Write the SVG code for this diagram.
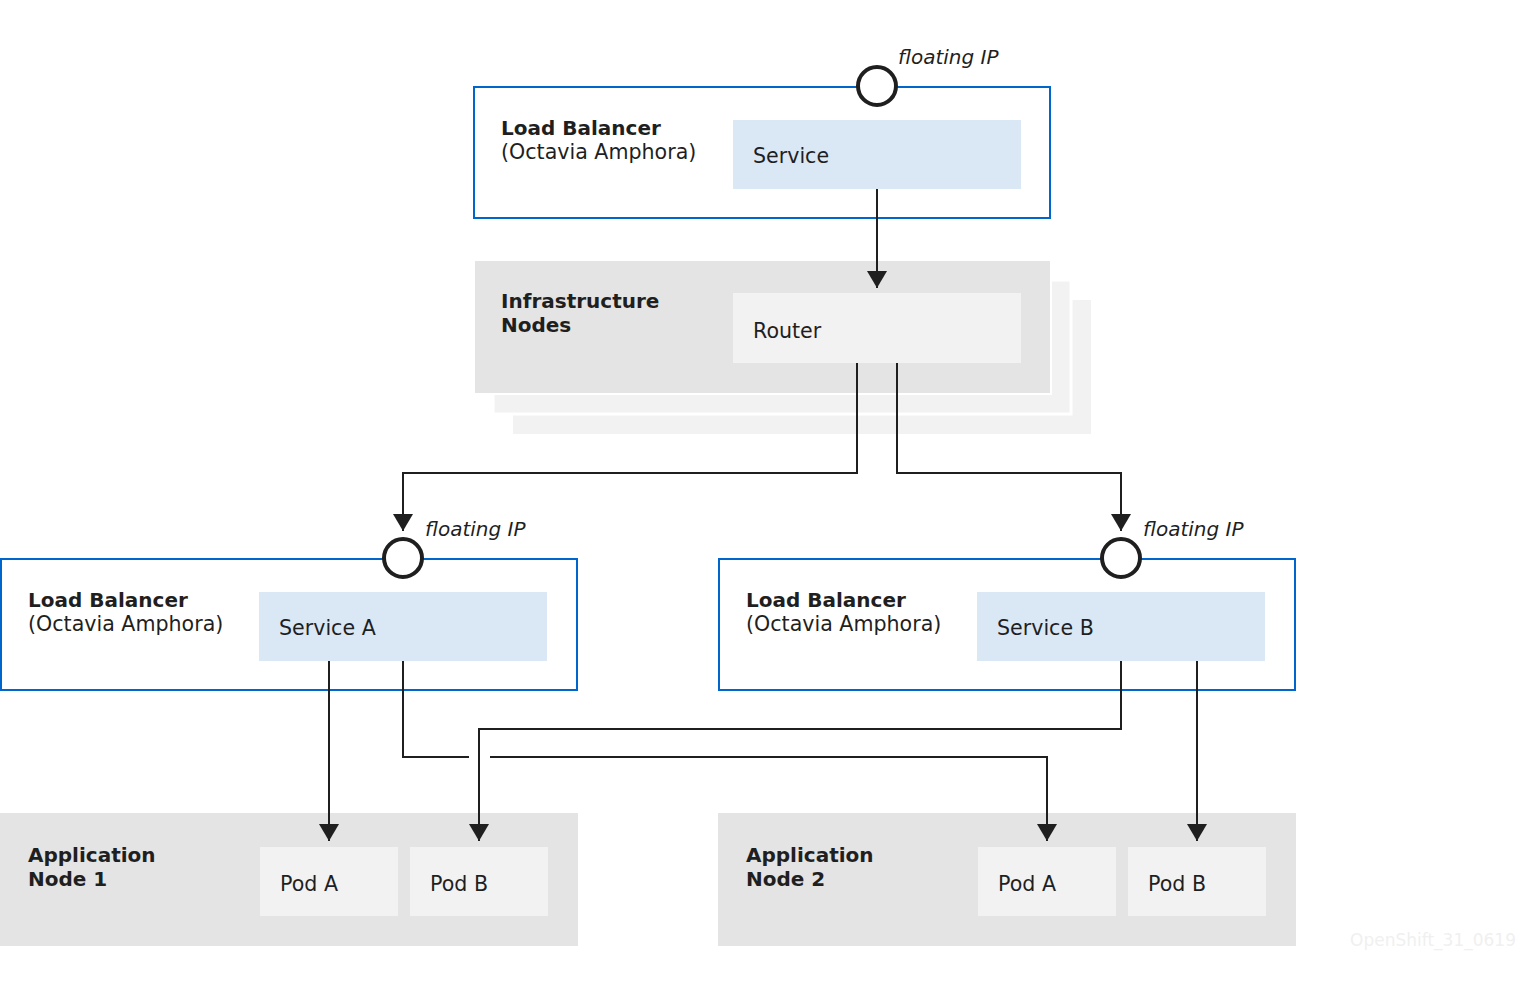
<svg xmlns="http://www.w3.org/2000/svg" width="1520" height="982" viewBox="0 0 1520 982">
<defs>
<style>
text{font-family:"DejaVu Sans","Noto Sans",sans-serif;fill:#1f1f1f;font-size:20.6px}
.b{font-weight:bold;font-size:20px}
.i{font-style:italic;font-size:20px}
.lb{fill:#ffffff;stroke:#0066cc;stroke-width:2}
.svc{fill:#dae8f6}
.grey{fill:#e4e4e4}
.light{fill:#f2f2f2}
.fip{fill:#ffffff;stroke:#1f1f1f;stroke-width:4}
.conn{fill:none;stroke:#1f1f1f;stroke-width:2}
.wm{fill:#f0f0f0;font-size:17px;text-anchor:end}
</style>
<marker id="arr" viewBox="0 0 17 20" refX="17" refY="10" markerWidth="17" markerHeight="20" markerUnits="userSpaceOnUse" orient="auto">
<path d="M0,0 L17,10 L0,20 Z" fill="#1f1f1f"/>
</marker>
</defs>
<rect width="1520" height="982" fill="#ffffff"/>

<g id="lb-top">
<rect class="lb" x="474" y="87" width="576" height="131"/>
<rect class="svc" x="733" y="120" width="288" height="69"/>
<text class="b" x="501" y="135">Load Balancer</text>
<text x="501" y="159">(Octavia Amphora)</text>
<text x="753" y="163">Service</text>
<circle class="fip" cx="877" cy="86" r="19"/>
<text class="i" x="898" y="64">floating IP</text>
</g>

<g id="infra">
<rect class="light" x="513" y="300" width="578" height="134"/>
<rect class="light" x="493" y="280" width="578" height="134" stroke="#ffffff" stroke-width="3"/>
<rect class="grey" x="474" y="260" width="577" height="134" stroke="#ffffff" stroke-width="2"/>
<rect class="light" x="733" y="293" width="288" height="70"/>
<text class="b" x="501" y="308">Infrastructure</text>
<text class="b" x="501" y="332">Nodes</text>
<text x="753" y="338">Router</text>
</g>

<g id="lb-a">
<rect class="lb" x="1" y="559" width="576" height="131"/>
<rect class="svc" x="259" y="592" width="288" height="69"/>
<text class="b" x="28" y="607">Load Balancer</text>
<text x="28" y="631">(Octavia Amphora)</text>
<text x="279" y="635">Service A</text>
<circle class="fip" cx="403" cy="558" r="19"/>
<text class="i" x="425" y="536">floating IP</text>
</g>

<g id="lb-b">
<rect class="lb" x="719" y="559" width="576" height="131"/>
<rect class="svc" x="977" y="592" width="288" height="69"/>
<text class="b" x="746" y="607">Load Balancer</text>
<text x="746" y="631">(Octavia Amphora)</text>
<text x="997" y="635">Service B</text>
<circle class="fip" cx="1121" cy="558" r="19"/>
<text class="i" x="1143" y="536">floating IP</text>
</g>

<g id="app-node-1">
<rect class="grey" x="0" y="813" width="578" height="133"/>
<rect class="light" x="260" y="847" width="138" height="69"/>
<rect class="light" x="410" y="847" width="138" height="69"/>
<text class="b" x="28" y="862">Application</text>
<text class="b" x="28" y="886">Node 1</text>
<text x="280" y="891">Pod A</text>
<text x="430" y="891">Pod B</text>
</g>

<g id="app-node-2">
<rect class="grey" x="718" y="813" width="578" height="133"/>
<rect class="light" x="978" y="847" width="138" height="69"/>
<rect class="light" x="1128" y="847" width="138" height="69"/>
<text class="b" x="746" y="862">Application</text>
<text class="b" x="746" y="886">Node 2</text>
<text x="998" y="891">Pod A</text>
<text x="1148" y="891">Pod B</text>
</g>

<g id="connectors">
<path class="conn" d="M877,189 V288" marker-end="url(#arr)"/>
<path class="conn" d="M857,363 V473 H403 V531" marker-end="url(#arr)"/>
<path class="conn" d="M897,363 V473 H1121 V531" marker-end="url(#arr)"/>
<path class="conn" d="M329,661 V841" marker-end="url(#arr)"/>
<path class="conn" d="M403,661 V757 H469"/>
<path class="conn" d="M490,757 H1047 V841" marker-end="url(#arr)"/>
<path class="conn" d="M1121,661 V729 H479 V841" marker-end="url(#arr)"/>
<path class="conn" d="M1197,661 V841" marker-end="url(#arr)"/>
</g>

<text class="wm" x="1516" y="946">OpenShift_31_0619</text>
</svg>
